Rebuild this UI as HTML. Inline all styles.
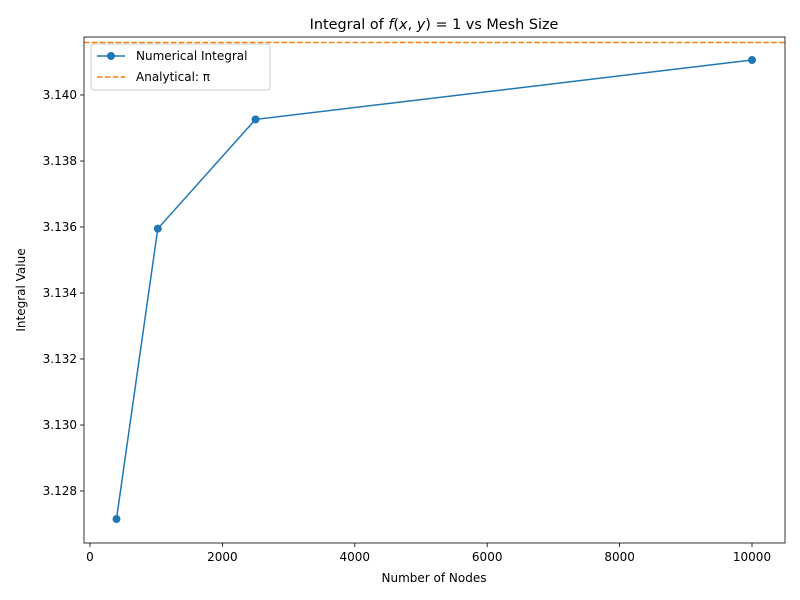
<!DOCTYPE html>
<html><head><meta charset="utf-8"><style>body{margin:0;background:#fff}svg{display:block;font-family:"DejaVu Sans","Liberation Sans",sans-serif}</style></head>
<body>
<svg width="800" height="600">
<rect width="800" height="600" fill="#fff"/>
<g id="plot"></g>
</svg>
<script>
const xValues = [400, 1024, 2500, 10000];
const yValues = [3.12715, 3.13595, 3.13926, 3.14106];
const analytical = 3.14159;
const xTicks = [0, 2000, 4000, 6000, 8000, 10000];
const yTicks = [3.128, 3.130, 3.132, 3.134, 3.136, 3.138, 3.140];

const L=84,R=785,T=37,B=543;
const sx=v=>90+v*0.0662;
const sy=v=>491-(v-3.128)*33000;
const NS='http://www.w3.org/2000/svg';
const g=document.getElementById('plot');
function mk(t,a,txt){const e=document.createElementNS(NS,t);for(const k in a)e.setAttribute(k,a[k]);if(txt!==undefined)e.textContent=txt;g.appendChild(e);return e;}

xTicks.forEach(v=>{const x=sx(v);
 const t=mk('line',{x1:x,x2:x,y1:B,y2:B+4,stroke:'#000','stroke-width':0.8});
 
 
 const l=mk('text',{x:x,y:B+18,'text-anchor':'middle','font-size':12},String(v));
 
 
});
yTicks.forEach(v=>{const y=sy(v);
 const t=mk('line',{x1:L-4,x2:L,y1:y,y2:y,stroke:'#000','stroke-width':0.8});
 
 
 const l=mk('text',{x:L-7,y:y+4,'text-anchor':'end','font-size':12},v.toFixed(3));
 
 
});

const pi=mk('line',{x1:L,x2:R,y1:sy(analytical),y2:sy(analytical),stroke:'#ff7f0e','stroke-width':1.5,'stroke-dasharray':'5.5,2.4'});



const pts=xValues.map((v,i)=>sx(v)+','+sy(yValues[i])).join(' ');
const pl=mk('polyline',{points:pts,fill:'none',stroke:'#1f77b4','stroke-width':1.5});


xValues.forEach((v,i)=>{
 const c=mk('circle',{cx:sx(v),cy:sy(yValues[i]),r:4,fill:'#1f77b4'});
 
 
});

const fr=mk('rect',{x:L,y:T,width:R-L,height:B-T,fill:'none',stroke:'#000','stroke-width':0.8});



const ti=mk('text',{x:434,y:29,'text-anchor':'middle','font-size':14.4},'');
ti.innerHTML='Integral of <tspan font-style="italic">f</tspan>(<tspan font-style="italic">x</tspan>, <tspan font-style="italic">y</tspan>) = 1 vs Mesh Size';


const xl=mk('text',{x:434,y:582,'text-anchor':'middle','font-size':12},'Number of Nodes');


const yl=mk('text',{x:0,y:0,'text-anchor':'middle','font-size':12,transform:'translate(25,290) rotate(-90)'},'Integral Value');



const lg=mk('rect',{x:91,y:44,width:179,height:46,rx:3,fill:'#fff','fill-opacity':0.8,stroke:'#ccc'});


const l1=mk('line',{x1:97,x2:125,y1:56,y2:56,stroke:'#1f77b4','stroke-width':1.5});


const c1=mk('circle',{cx:111,cy:56,r:4,fill:'#1f77b4'});


const t1=mk('text',{x:136,y:60,'font-size':12},'Numerical Integral');


const l2=mk('line',{x1:97,x2:125,y1:77,y2:77,stroke:'#ff7f0e','stroke-width':1.5,'stroke-dasharray':'5.5,2.4'});


const t2=mk('text',{x:136,y:81,'font-size':12},'Analytical: π');


</script>
</body></html>
